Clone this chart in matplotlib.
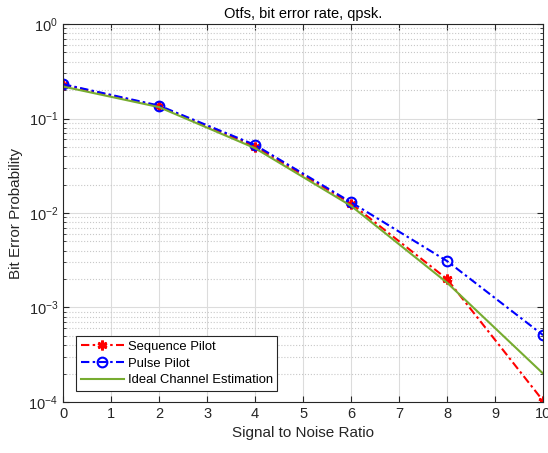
import numpy as np
import matplotlib
matplotlib.use('Agg')
import matplotlib.pyplot as plt
from matplotlib.ticker import LogLocator, NullFormatter

plt.rcParams['font.family'] = ['Liberation Sans', 'DejaVu Sans']

snr = [0, 2, 4, 6, 8, 10]
seq_pilot = [0.228, 0.135, 0.0505, 0.0126, 0.00200, 0.000103]
pulse_pilot = [0.231, 0.137, 0.0525, 0.0130, 0.00310, 0.00051]
ideal_est = [0.218, 0.132, 0.0485, 0.0119, 0.00183, 0.000200]

fig = plt.figure(figsize=(5.48, 4.53), dpi=100)
ax = fig.add_axes([0.115, 0.1126, 0.876, 0.8344])

dashdot = (4, 1.6, 1.2, 1.6)
ax.semilogy(snr, seq_pilot, color='r', linestyle=(0, dashdot), marker=(6, 2, 0), markersize=7,
            markeredgewidth=2, linewidth=1.5, label='Sequence Pilot')
ax.semilogy(snr, pulse_pilot, color='b', linestyle=(0, dashdot), marker='o', markersize=7,
            markerfacecolor='none', markeredgewidth=1.5, linewidth=1.5, label='Pulse Pilot')
ax.semilogy(snr, ideal_est, '-', color='#77AC30', linewidth=1.5, label='Ideal Channel Estimation')

ax.set_xlim(0, 10)
ax.set_ylim(1e-4, 1e0)
ax.set_xticks(range(0, 11))
ax.yaxis.set_major_locator(LogLocator(base=10, numticks=10))
ax.yaxis.set_minor_locator(LogLocator(base=10, subs=np.arange(2, 10), numticks=20))
ax.yaxis.set_minor_formatter(NullFormatter())

ax.grid(True, which='major', color='#dcdcdc', linestyle='-', linewidth=0.8)
ax.grid(True, which='minor', axis='y', color='#c8c8c8', linestyle=':', linewidth=0.8)
ax.set_axisbelow(True)

ax.tick_params(which='both', direction='in', top=True, right=True, labelsize=10.5, colors='#262626')
ax.tick_params(which='major', length=4)
ax.tick_params(which='minor', length=2)
for s in ax.spines.values():
    s.set_color('#262626')
    s.set_linewidth(0.8)

ax.set_title('Otfs, bit error rate, qpsk.', fontsize=10.5, color='black', pad=4)
ax.set_xlabel('Signal to Noise Ratio', fontsize=11, color='#262626')
ax.set_ylabel('Bit Error Probability', fontsize=11, color='#262626')

leg = ax.legend(loc='lower left', bbox_to_anchor=(0.027, 0.029), borderaxespad=0, fontsize=9.4,
                fancybox=False, framealpha=1, edgecolor='#262626',
                borderpad=0.35, labelspacing=0.35, handlelength=3.3, handletextpad=0.3)
leg.get_frame().set_linewidth(0.8)

fig.savefig('out.png', dpi=100)
